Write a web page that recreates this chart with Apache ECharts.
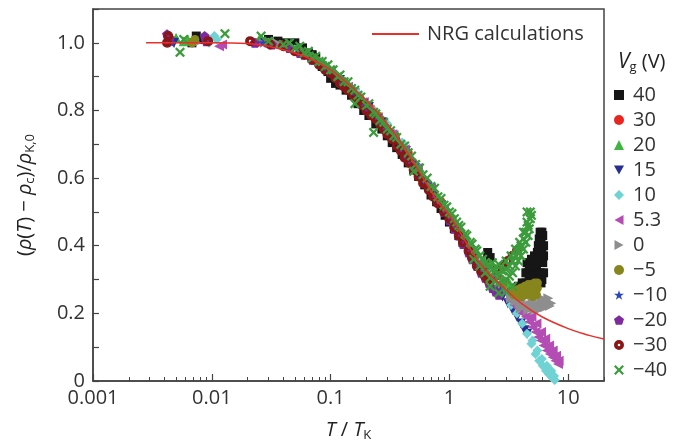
<!DOCTYPE html>
<html><head><meta charset="utf-8">
<script src="https://cdn.jsdelivr.net/npm/echarts@6/dist/echarts.min.js"></script>
<style>html,body{margin:0;padding:0;background:#fff}#c{width:680px;height:447px}</style>
</head><body><div id="c"></div>
<script>
// ---- tick labels ----
const xTickValues = [0.001, 0.01, 0.1, 1, 10];
const xTickLabels = ['0.001', '0.01', '0.1', '1', '10'];
const yTickValues = [0, 0.2, 0.4, 0.6, 0.8, 1.0];
const yTickLabels = ['0', '0.2', '0.4', '0.6', '0.8', '1.0'];
const vgNames = ['40', '30', '20', '15', '10', '5.3', '0', '\u22125', '\u221210', '\u221220', '\u221230', '\u221240'];

// ---- NRG calculation curve [T/TK, value] ----
const nrg = [[0.0028,1.0],[0.01,1.0],[0.02,0.998],[0.03,0.99],[0.05,0.97],[0.07,0.95],[0.1,0.92],[0.15,0.87],[0.2,0.83],[0.3,0.76],[0.4,0.70],[0.6,0.60],[0.8,0.53],[1.0,0.49],[1.5,0.39],[2,0.33],[3,0.27],[4,0.23],[6,0.19],[10,0.155],[15,0.135],[20,0.124]];

// ---- measured data per gate voltage [T/TK, value] ----
const vg40 = [[0.0068,1.0],[0.0074,1.02],[0.008,1.01],[0.03,1.01],[0.036,1.005],[0.042,1.0],[0.05,1.0],[0.058,0.985],[0.07,0.965],[0.085,0.93],[0.1,0.895],[0.12,0.875],[0.15,0.845],[0.19,0.8],[0.24,0.76],[0.3,0.725],[0.36,0.69],[0.45,0.645],[0.55,0.605],[0.7,0.55],[0.85,0.51],[1.0,0.47],[1.2,0.43],[1.45,0.39],[1.75,0.355],[2.1,0.38],[2.2,0.365],[2.5,0.315],[2.9,0.29],[3.3,0.275],[3.6,0.27],[3.9,0.275],[4.2,0.28],[4.4,0.29],[4.4,0.32],[4.5,0.35],[4.7,0.3],[4.8,0.33],[4.9,0.36],[5.1,0.29],[5.1,0.33],[5.2,0.37],[5.4,0.3],[5.4,0.34],[5.5,0.38],[5.6,0.4],[5.7,0.42],[5.8,0.44],[5.9,0.41],[6.0,0.38],[6.1,0.35],[6.1,0.43],[6.2,0.4],[5.8,0.32],[5.6,0.36],[5.9,0.29],
  [0.065,0.97],[0.075,0.955],[0.095,0.915],[0.11,0.88],[0.135,0.86],[0.17,0.82],[0.21,0.785],[0.27,0.745],[0.33,0.705],[0.4,0.67],[0.5,0.625],[0.62,0.58],[0.78,0.53],[0.92,0.49],[1.1,0.45],[1.3,0.41],[1.6,0.37],
  [3.8,0.28],[4.1,0.29],[4.6,0.32],[4.7,0.34],[5.0,0.35],[5.3,0.36],[5.7,0.38],[5.8,0.41],[6.0,0.44],[6.2,0.37],[6.2,0.32],[6.0,0.3],[5.3,0.31],[4.9,0.31]];
const vg30 = [[0.0045,1.01],[0.024,1.0],[0.038,0.995],[0.055,0.975],[0.075,0.95],[0.1,0.915],[0.13,0.885],[0.17,0.845],[0.22,0.805],[0.28,0.765],[0.35,0.725],[0.45,0.675],[0.55,0.625],[0.7,0.57],[0.85,0.53],[1.05,0.48],[1.3,0.43],[1.6,0.385],[2.0,0.345],[2.5,0.31],[3.0,0.29]];
const vg20 = [[0.005,1.015],[0.0058,1.005],[0.0063,1.01],[0.025,1.01],[0.033,1.0],[0.045,0.99],[0.06,0.97],[0.075,0.95],[0.09,0.93],[0.11,0.91],[0.135,0.88],[0.16,0.86],[0.2,0.825],[0.25,0.785],[0.3,0.755],[0.37,0.715],[0.45,0.67],[0.55,0.63],[0.65,0.59],[0.8,0.545],[0.95,0.505],[1.15,0.46],[1.4,0.415],[1.7,0.375],[2.0,0.35],[2.4,0.32],[2.8,0.3],[3.2,0.29]];
const vg15 = [[0.0048,1.0],[0.028,1.0],[0.04,0.99],[0.06,0.965],[0.085,0.93],[0.12,0.89],[0.16,0.85],[0.21,0.81],[0.27,0.765],[0.34,0.725],[0.43,0.68],[0.55,0.625],[0.7,0.565],[0.85,0.52],[1.05,0.47],[1.3,0.42],[1.6,0.37],[1.9,0.33],[2.2,0.3],[2.5,0.27],[2.8,0.25],[3.1,0.23],[3.4,0.21],[3.7,0.19],[4.0,0.17],[4.3,0.15],[4.5,0.14]];
const vg10 = [[0.0095,1.0],[0.0105,1.02],[0.011,1.01],[0.03,1.0],[0.05,0.98],[0.08,0.945],[0.12,0.895],[0.17,0.85],[0.23,0.8],[0.3,0.76],[0.4,0.705],[0.52,0.64],[0.68,0.58],[0.85,0.525],[1.1,0.465],[1.4,0.41],[1.8,0.35],[2.3,0.3],[2.8,0.265],[3.3,0.225],[3.7,0.2],[4.1,0.17],[4.5,0.14],[4.9,0.11],[5.3,0.08],[5.7,0.06],[6.1,0.045],[6.5,0.03],[6.9,0.02],[7.3,0.01],[7.7,0.003],[5.0,0.12],[5.5,0.09],[6.0,0.065],[6.6,0.045],[7.2,0.03],[7.6,0.015]];
const vg5p3 = [[0.0115,0.99],[0.0122,0.995],[0.026,1.0],[0.04,0.99],[0.065,0.96],[0.1,0.915],[0.14,0.87],[0.19,0.825],[0.25,0.78],[0.33,0.73],[0.42,0.685],[0.54,0.63],[0.7,0.57],[0.9,0.51],[1.15,0.455],[1.45,0.4],[1.8,0.35],[2.2,0.31],[2.7,0.27],[3.2,0.24],[3.5,0.225],[3.8,0.215],[4.1,0.2],[4.4,0.19],[4.7,0.175],[5.0,0.16],[5.3,0.145],[5.6,0.13],[5.9,0.12],[6.2,0.105],[6.6,0.09],[7.0,0.08],[7.4,0.07],[7.8,0.06],[8.2,0.05],[3.9,0.235],[4.4,0.215],[4.9,0.19],[5.4,0.17],[5.9,0.145],[6.4,0.125],[6.9,0.105],[7.4,0.09],[7.9,0.075],[8.3,0.06]];
const vg0 = [[0.0075,1.0],[0.035,1.0],[0.07,0.955],[0.14,0.875],[0.28,0.765],[0.55,0.625],[1.1,0.465],[2.0,0.33],[2.8,0.27],[3.3,0.245],[3.6,0.235],[3.9,0.23],[4.2,0.225],[4.5,0.225],[4.8,0.225],[5.1,0.225],[5.4,0.225],[5.7,0.228],[6.0,0.23],[6.3,0.232],[6.6,0.235],[6.9,0.232],[7.2,0.23],[4.0,0.215],[4.6,0.21],[5.2,0.21],[5.8,0.212],[6.4,0.218],[7.0,0.222],[5.0,0.24],[6.0,0.245],[6.8,0.245]];
const vgm5 = [[0.0068,1.0],[0.0072,1.01],[0.03,1.0],[0.06,0.965],[0.12,0.89],[0.25,0.785],[0.5,0.645],[1.0,0.48],[2.0,0.33],[2.8,0.285],[3.3,0.265],[3.5,0.255],[3.8,0.25],[4.1,0.25],[4.4,0.255],[4.7,0.26],[5.0,0.265],[5.3,0.27],[5.5,0.275],[3.7,0.27],[4.0,0.275],[4.3,0.28],[4.6,0.285],[4.9,0.285],[5.2,0.29],[5.5,0.29],[4.2,0.265],[5.0,0.25],[5.4,0.255]];
const vgm10 = [[0.0046,1.0],[0.027,1.0],[0.045,0.985],[0.07,0.955],[0.1,0.915],[0.14,0.87],[0.19,0.83],[0.25,0.785],[0.32,0.74],[0.41,0.69],[0.52,0.64],[0.66,0.585],[0.83,0.53],[1.05,0.475],[1.3,0.425],[1.6,0.38],[2.0,0.33],[2.4,0.3],[2.7,0.27]];
const vgm20 = [[0.0042,1.025],[0.0044,1.01],[0.0087,1.02],[0.009,1.005],[0.023,1.0],[0.032,0.995],[0.045,0.985],[0.06,0.965],[0.08,0.94],[0.1,0.915],[0.12,0.89],[0.15,0.86],[0.19,0.82],[0.23,0.79],[0.28,0.755],[0.35,0.715],[0.43,0.67],[0.53,0.625],[0.65,0.58],[0.8,0.53],[1.0,0.475],[1.2,0.43],[1.45,0.38],[1.7,0.34],[2.0,0.305],[2.3,0.275],[2.6,0.255],
  [0.055,0.97],[0.07,0.95],[0.09,0.925],[0.11,0.9],[0.135,0.87],[0.17,0.835],[0.21,0.8],[0.25,0.775],[0.31,0.735],[0.39,0.69],[0.48,0.645],[0.59,0.6],[0.72,0.555],[0.9,0.5],[1.1,0.45],[1.3,0.405],[1.55,0.36],[1.85,0.32],[2.15,0.29],[2.45,0.265]];
const vgm30 = [[0.0042,1.0],[0.0043,1.02],[0.0093,1.005],[0.021,1.005],[0.031,0.995],[0.04,0.99],[0.06,0.965],[0.08,0.935],[0.1,0.91],[0.12,0.88],[0.14,0.86],[0.17,0.83],[0.2,0.8],[0.24,0.775],[0.28,0.745],[0.33,0.715],[0.39,0.68],[0.46,0.645],[0.55,0.605],[0.67,0.565],[0.8,0.525],[1.0,0.48],[1.2,0.43],[1.45,0.385],[1.7,0.34],[2.0,0.31],[2.2,0.295],[2.5,0.33],[2.8,0.34],[3.1,0.355],[3.4,0.37],[3.7,0.385],
  [0.05,0.975],[0.07,0.95],[0.09,0.92],[0.11,0.895],[0.13,0.87],[0.155,0.845],[0.185,0.815],[0.22,0.785],[0.26,0.76],[0.3,0.73],[0.36,0.695],[0.42,0.66],[0.5,0.625],[0.6,0.585],[0.73,0.545],[0.9,0.5],[1.1,0.455],[1.3,0.41],[1.55,0.365],[1.85,0.325],[2.1,0.3]];
const vgm40 = [[0.0054,0.972],[0.0058,1.01],[0.0129,1.027],[0.026,1.02],[0.03,1.005],[0.04,0.995],[0.05,0.985],[0.06,0.97],[0.07,0.955],[0.08,0.945],[0.09,0.93],[0.1,0.92],[0.115,0.9],[0.13,0.885],[0.15,0.865],[0.17,0.845],[0.2,0.815],[0.23,0.795],[0.26,0.77],[0.3,0.745],[0.34,0.725],[0.39,0.7],[0.45,0.675],[0.52,0.64],[0.6,0.61],[0.7,0.575],[0.8,0.545],[0.9,0.52],[1.0,0.5],[1.1,0.48],[1.2,0.46],[1.35,0.435],[1.5,0.41],[1.65,0.39],[1.8,0.37],[2.0,0.35],[2.2,0.335],[2.4,0.325],[2.6,0.32],[2.8,0.325],[3.0,0.33],[3.2,0.34],[3.4,0.355],[3.6,0.37],[3.8,0.385],[4.0,0.4],[4.2,0.42],[4.4,0.44],[4.6,0.46],[4.8,0.48],[4.9,0.49],[1.6,0.36],[1.8,0.34],[2.0,0.32],[2.2,0.305],[2.4,0.295],[2.6,0.29],[2.8,0.295],[3.0,0.3],[3.2,0.31],[3.4,0.32],[3.6,0.34],[3.8,0.355],[4.0,0.37],[4.2,0.39],[4.4,0.41],[4.6,0.43],[4.7,0.45],[2.3,0.35],[2.6,0.345],[3.0,0.355],[3.3,0.37],[3.6,0.39],[3.9,0.41],[4.2,0.44],[4.5,0.47],[4.8,0.5],[4.5,0.5],[2.6,0.26],[3.0,0.265],[3.4,0.28],[2.2,0.28],
  [0.045,1.0],[0.055,0.99],[0.065,0.975],[0.075,0.96],[0.085,0.945],[0.095,0.935],[0.105,0.92],[0.12,0.905],[0.14,0.885],[0.16,0.86],[0.18,0.84],[0.21,0.82],[0.24,0.79],[0.28,0.765],[0.32,0.74],[0.36,0.72],[0.42,0.695],[0.48,0.665],[0.56,0.63],[0.65,0.6],[0.75,0.57],[0.85,0.54],[0.95,0.515],[1.05,0.495],[1.15,0.47],[1.25,0.455],[1.4,0.43],[1.55,0.405],[1.7,0.385],[1.9,0.36],[2.1,0.345],[2.3,0.33],[0.23,0.735],[0.16,0.82],[0.5,0.62]];

const seriesData = [vg40, vg30, vg20, vg15, vg10, vg5p3, vg0, vgm5, vgm10, vgm20, vgm30, vgm40];
const colors = ['#161616', '#e8261f', '#3fb43f', '#262f8f', '#70d3d3', '#b34db3', '#8e8e8e', '#86861c', '#2a46b8', '#7c2a9e', '#8a1616', '#3c9c3c'];
const symbols = [
  'rect', 'circle', 'triangle',
  'path://M0,0L10,0L5,9Z',
  'diamond',
  'path://M0,5L9,0L9,10Z',
  'path://M0,0L9,5L0,10Z',
  'circle',
  'path://M5,0L6.2,3.6L10,3.6L6.9,5.8L8.1,9.5L5,7.2L1.9,9.5L3.1,5.8L0,3.6L3.8,3.6Z',
  'path://M5,0L10,3.8L8.1,9.7L1.9,9.7L0,3.8Z',
  'path://M5,0A5,5 0 1,1 5,10A5,5 0 1,1 5,0ZM5,3.7A1.3,1.3 0 1,0 5,6.3A1.3,1.3 0 1,0 5,3.7Z',
  'path://M0,1.6L1.6,0L5,3.4L8.4,0L10,1.6L6.6,5L10,8.4L8.4,10L5,6.6L1.6,10L0,8.4L3.4,5Z'
];
const sizes = [9, 9, 10, 10, 10, 10, 10, 9, 10, 10, 10, 10];

// minor tick positions (log10 of 2..9 per decade)
const minorTicks = [];
for (let d = -3; d <= 1; d++) for (let k = 2; k <= 9; k++) { const v = d + Math.log10(k); if (v <= Math.log10(20)) minorTicks.push(v); }

const FONT = 'Open Sans';
const FS = 20;
const chart = echarts.init(document.getElementById('c'), null, {renderer: 'canvas'});

const series = seriesData.map((d, i) => ({
  name: vgNames[i], type: 'scatter', data: d, symbol: symbols[i], symbolSize: sizes[i],
  itemStyle: {color: colors[i], opacity: 1}, z: 2 + i, silent: true
}));
series.push({
  name: 'NRG calculations', type: 'line', data: nrg, smooth: 0.4, showSymbol: false, symbol: 'none',
  lineStyle: {color: '#e8302a', width: 1.5}, itemStyle: {color: '#e8302a'}, z: 30, silent: true
});

const richName = {
  i: {fontStyle: 'italic', fontSize: FS, fontFamily: FONT, color: '#222'},
  n: {fontSize: FS, fontFamily: FONT, color: '#222'},
  s: {fontSize: 13, fontFamily: FONT, color: '#222', padding: [10, 0, 0, 0]}
};

chart.setOption({
  animation: false,
  textStyle: {fontFamily: FONT},
  grid: {left: 93, right: 76, top: 9, bottom: 65, show: true, borderColor: '#444', borderWidth: 1.5},
  xAxis: [{
    type: 'log', logBase: 10, min: 0.001, max: 20, position: 'bottom',
    axisLine: {onZero: false, lineStyle: {color: '#444', width: 1.5}},
    axisTick: {inside: true, length: 7, lineStyle: {color: '#444', width: 1.2}},
    splitLine: {show: false},
    axisLabel: {
      margin: 7, color: '#333', fontSize: FS, fontFamily: FONT,
      showMaxLabel: false,
      formatter: v => { for (let i = 0; i < xTickValues.length; i++) if (Math.abs(Math.log10(v) - Math.log10(xTickValues[i])) < 1e-6) return xTickLabels[i]; return ''; }
    },
    name: '{i|T}{n| / }{i|T}{s|K}', nameLocation: 'middle', nameGap: 38,
    nameTextStyle: {rich: richName}
  }, {
    type: 'value', min: -3, max: Math.log10(20), position: 'bottom',
    axisLine: {show: false, onZero: false}, axisLabel: {show: false}, splitLine: {show: false},
    axisTick: {show: true, inside: true, length: 4, customValues: minorTicks, lineStyle: {color: '#444', width: 1}}
  }],
  yAxis: {
    type: 'value', min: 0, max: 1.1, interval: 0.1,
    axisLine: {show: true, onZero: false, lineStyle: {color: '#444', width: 1.5}},
    axisTick: {show: true, inside: true, length: 6, lineStyle: {color: '#444', width: 1.2}},
    splitLine: {show: false},
    axisLabel: {
      margin: 8, color: '#333', fontSize: FS, fontFamily: FONT,
      formatter: v => { for (let i = 0; i < yTickValues.length; i++) if (Math.abs(v - yTickValues[i]) < 1e-6) return yTickLabels[i]; return ''; }
    },
    name: '{n|(}{i|\u03c1}{n|(}{i|T}{n|) \u2212 }{i|\u03c1}{s|c}{n|)/}{i|\u03c1}{s|K,0}',
    nameLocation: 'middle', nameGap: 56, nameRotate: 90,
    nameTextStyle: {rich: richName}
  },
  legend: [{
    data: [{name: 'NRG calculations', icon: 'rect'}],
    left: 367, top: 19, itemWidth: 47, itemHeight: 2, selectedMode: false,
    textStyle: {fontSize: FS, fontFamily: FONT, color: '#333', padding: [0, 0, 0, 3]}
  }, {
    data: vgNames, orient: 'vertical', left: 609, top: 80,
    itemWidth: 10, itemHeight: 10, itemGap: 5, selectedMode: false,
    textStyle: {fontSize: FS, fontFamily: FONT, color: '#333', padding: [0, 0, 0, 4]}
  }],
  graphic: [{
    type: 'text', left: 618, top: 52,
    style: {
      text: '{i|V}{s|g}{n| (V)}',
      rich: {
        i: {fontStyle: 'italic', fontSize: 21, fontFamily: FONT, fill: '#222'},
        n: {fontSize: FS, fontFamily: FONT, fill: '#222'},
        s: {fontSize: 13, fontFamily: FONT, fill: '#222', padding: [10, 0, 0, 0]}
      }
    }
  }],
  series: series
});
</script></body></html>
